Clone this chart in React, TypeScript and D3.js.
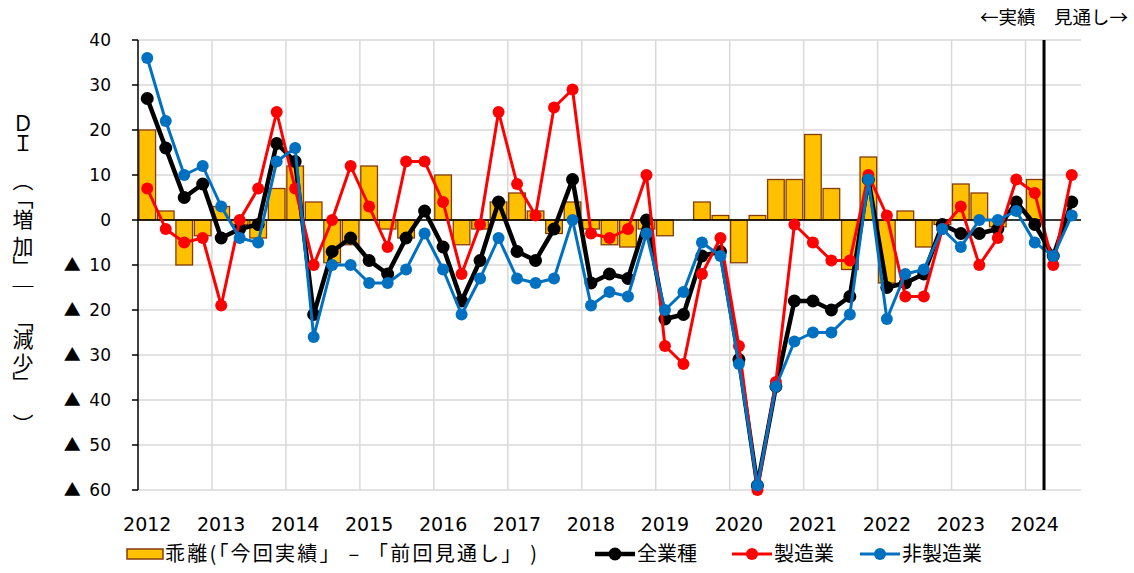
import React from "react"
import * as d3 from "d3"

// Data (quarterly, 2012Q1 - 2024Q3)
const years = [2012, 2013, 2014, 2015, 2016, 2017, 2018, 2019, 2020, 2021, 2022, 2023, 2024]
const quarters = ["Q1", "Q2", "Q3", "Q4"]
const categories = years.flatMap(y => quarters.map(q => `${y}${q}`)).slice(0, 51)
const forecastStart = "2024Q2"

// 乖離（「今回実績」－「前回見通し」）
const gap = [
  20, 2, -10, -3.5, 3, -1, -4, 7, 12, 4, -9.5, -5.5, 12, -2, -4, null,
  10, -5.5, -2, 4, 6, 2, -3, 4, -2, -5.5, -6, -2, -3.5, null, 4, 1,
  -9.5, 1, 9, 9, 19, 7, -11, 14, -14, 2, -6, -1, 8, 6, -1.5, null,
  9, null, null
]
// 全業種
const allInd = [
  27, 16, 5, 8, -4, -2, -1, 17, 13, -21, -7, -4, -9, -12, -4, 2,
  -6, -18, -9, 4, -7, -9, -2, 9, -14, -12, -13, 0, -22, -21, -8, -7,
  -31, -59, -37, -18, -18, -20, -17, 9, -15, -14, -12, -1, -3, -3, -2, 4,
  -1, -8, 4
]
// 製造業
const mfg = [
  7, -2, -5, -4, -19, 0, 7, 24, 7, -10, 0, 12, 3, -6, 13, 13,
  4, -12, -1, 24, 8, 1, 25, 29, -3, -4, -2, 10, -28, -32, -12, -4,
  -28, -60, -36, -1, -5, -9, -9, 10, 1, -17, -17, -2, 3, -10, -4, 9,
  6, -10, 10
]
// 非製造業
const nonMfg = [
  36, 22, 10, 12, 3, -4, -5, 13, 16, -26, -10, -10, -14, -14, -11, -3,
  -11, -21, -13, -4, -13, -14, -13, 0, -19, -16, -17, -3, -20, -16, -5, -8,
  -32, -59, -37, -27, -25, -25, -21, 9, -22, -12, -11, -2, -6, 0, 0, 2,
  -5, -8, 1
]

const series = [
  { name: "全業種", values: allInd, color: "#000000", width: 4.5, r: 6.5 },
  { name: "製造業", values: mfg, color: "#FF0000", width: 3, r: 6 },
  { name: "非製造業", values: nonMfg, color: "#0070C0", width: 3, r: 6 }
]

const NUM_FONT = "'DejaVu Sans', Verdana, sans-serif"
const JP_FONT = "'Noto Sans CJK JP', 'Noto Sans', sans-serif"

// vertical axis title, one glyph per box
const titleChars: [string, number][] = [
  ["Ｄ", 113], ["Ｉ", 133], ["（", 170], ["「", 188], ["増", 209], ["加", 236],
  ["」", 256], ["｜", 276], ["「", 310], ["減", 329], ["少", 353], ["」", 372], ["）", 414]
]

export default function App() {
  const W = 1134
  const H = 573
  const left = 138
  const right = 1081
  const top = 40
  const bottom = 490

  const x = d3
    .scaleBand<string>()
    .domain(categories)
    .range([left, right])
    .paddingInner(0.1)
    .paddingOuter(0.05)
  const cx = (c: string) => (x(c) as number) + x.bandwidth() / 2
  const y = d3.scaleLinear().domain([-60, 40]).range([bottom, top])
  const yTicks = d3.range(-60, 41, 10)

  const line = d3
    .line<number>()
    .x((_, i) => cx(categories[i]))
    .y(d => y(d))

  const splitX = (cx(categories[categories.indexOf(forecastStart) - 1]) + cx(forecastStart)) / 2
  const gridX = categories
    .map((c, i) => i)
    .filter(i => i > 0 && i % 4 === 0)
    .map(i => left + ((right - left) / categories.length) * i)

  const fmt = (v: number) => (v < 0 ? String(-v) : String(v))

  const legendY = 554
  const legendX = [595, 732, 860]

  return (
    <div style={{ position: "absolute", left: 0, top: 0 }}>
      <svg width={W} height={H} style={{ display: "block", background: "#fff" }}>
        {/* grid */}
        <g stroke="#d9d9d9" strokeWidth={1.5}>
          {yTicks.map(t => (
            <line key={`h${t}`} x1={left} x2={right} y1={y(t)} y2={y(t)} />
          ))}
          {gridX.map(gx => (
            <line key={`v${gx}`} x1={gx} x2={gx} y1={top} y2={bottom} />
          ))}
        </g>

        {/* bars */}
        <g>
          {gap.map((d, i) =>
            d === null ? null : (
              <rect
                key={`bar${i}`}
                x={x(categories[i])}
                y={y(Math.max(0, d))}
                width={x.bandwidth()}
                height={Math.abs(y(d) - y(0))}
                fill="#FFC000"
                stroke="#843C0C"
                strokeWidth={1.3}
              />
            )
          )}
        </g>

        {/* zero line */}
        <line x1={left} x2={right} y1={y(0)} y2={y(0)} stroke="#000" strokeWidth={1.5} />

        {/* y axis */}
        <g>
          <line x1={left} x2={left} y1={top} y2={bottom} stroke="#000" strokeWidth={1.5} />
          {yTicks.map(t => (
            <g key={`yt${t}`}>
              <line x1={left - 6} x2={left} y1={y(t)} y2={y(t)} stroke="#000" strokeWidth={1.5} />
              <text
                x={111}
                y={y(t) + 6}
                textAnchor="end"
                fontSize={17}
                fontFamily={NUM_FONT}
                fill="#000"
              >
                {t < 0 && (
                  <tspan fontFamily={JP_FONT} fontSize={17}>
                    ▲
                  </tspan>
                )}
                {t < 0 ? "\u2002" : ""}
                {fmt(t)}
              </text>
            </g>
          ))}
        </g>

        {/* series lines */}
        {series.map(s => (
          <g key={s.name}>
            <path
              d={line(s.values) as string}
              fill="none"
              stroke={s.color}
              strokeWidth={s.width}
              strokeLinejoin="round"
            />
            {s.values.map((v, i) => (
              <circle key={i} cx={cx(categories[i])} cy={y(v)} r={s.r} fill={s.color} />
            ))}
          </g>
        ))}

        {/* actual / forecast divider */}
        <line x1={splitX} x2={splitX} y1={top} y2={bottom} stroke="#000" strokeWidth={3} />
        <text x={1128} y={24} textAnchor="end" fontSize={18.5} fontFamily={JP_FONT} fill="#000">
          ←実績　見通し→
        </text>

        {/* x labels */}
        {categories
          .filter(c => c.endsWith("Q1"))
          .map(c => (
            <text
              key={c}
              x={cx(c)}
              y={531}
              textAnchor="middle"
              fontSize={19}
              fontFamily={NUM_FONT}
              fill="#000"
            >
              {c.slice(0, 4)}
            </text>
          ))}

        {/* y title */}
        {titleChars.map(([ch, ty], i) => (
          <text
            key={`tc${i}`}
            x={23}
            y={ty}
            fontSize={21}
            fontFamily={JP_FONT}
            fill="#000"
            style={{ writingMode: "vertical-rl" }}
          >
            {ch}
          </text>
        ))}

        {/* legend */}
        <g>
          <rect x={127} y={legendY - 5} width={36} height={10} fill="#FFC000" stroke="#843C0C" strokeWidth={1.5} />
          <text
            x={165}
            y={legendY + 7}
            fontSize={20}
            fontFamily={JP_FONT}
            fill="#000"
            textLength={372}
            lengthAdjust="spacing"
          >
            乖離(「今回実績」 – 「前回見通し」 )
          </text>
          {series.map((s, i) => {
            const lx = legendX[i]
            return (
              <g key={`lg${s.name}`}>
                <line x1={lx} x2={lx + 40} y1={legendY} y2={legendY} stroke={s.color} strokeWidth={s.width} />
                <circle cx={lx + 20} cy={legendY} r={s.r} fill={s.color} />
                <text x={lx + 42} y={legendY + 7} fontSize={20} fontFamily={JP_FONT} fill="#000">
                  {s.name}
                </text>
              </g>
            )
          })}
        </g>
      </svg>
    </div>
  )
}
